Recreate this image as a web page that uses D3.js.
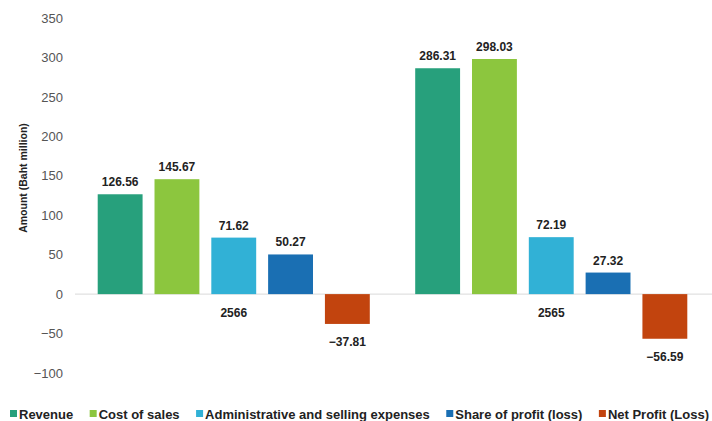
<!DOCTYPE html>
<html>
<head>
<meta charset="utf-8">
<script src="https://cdn.jsdelivr.net/npm/d3@7"></script>
<style>
  html, body { margin: 0; padding: 0; background: #fff; }
  svg { display: block; font-family: "Liberation Sans", Arial, sans-serif; }
</style>
</head>
<body>
<svg id="chart" width="712" height="421"></svg>
<script>
// Fiscal years (Thai Buddhist calendar)
const years = ["2566", "2565"];
const seriesNames = ["Revenue", "Cost of sales", "Administrative and selling expenses", "Share of profit (loss)", "Net Profit (Loss)"];
const seriesColors = ["#27a07c", "#8cc63e", "#31b1d6", "#1a6fb3", "#c2440e"];
// Values per series, in the order of years
const revenue = [126.56, 286.31];
const costOfSales = [145.67, 298.03];
const adminExpenses = [71.62, 72.19];
const shareOfProfit = [50.27, 27.32];
const netProfit = [-37.81, -56.59];
const yTicks = [350, 300, 250, 200, 150, 100, 50, 0, -50, -100];

const seriesValues = [revenue, costOfSales, adminExpenses, shareOfProfit, netProfit];
const data = years.map((yr, i) => ({
  year: yr,
  values: seriesNames.map((s, j) => ({ series: s, value: seriesValues[j][i], color: seriesColors[j] }))
}));

const svg = d3.select("#chart");

const y = d3.scaleLinear().domain([-100, 350]).range([373, 18]);
const x0 = d3.scaleBand().domain(years).range([75, 710]).paddingInner(0.143).paddingOuter(0.0715);
const x1 = d3.scaleBand().domain(seriesNames).range([0, x0.bandwidth()]).paddingInner(0.21).paddingOuter(0);

// Y axis labels
const yAxis = d3.axisLeft(y).tickValues(yTicks).tickSize(0).tickPadding(0);
const gy = svg.append("g").attr("transform", "translate(63,0)").call(yAxis);
gy.select(".domain").remove();
gy.selectAll("text")
  .attr("fill", "#555")
  .style("font-size", "13px")
  .style("font-family", "'Liberation Sans', Arial, sans-serif");

// Y axis title
svg.append("text")
  .attr("transform", "translate(27,178) rotate(-90)")
  .attr("text-anchor", "middle")
  .attr("fill", "#222")
  .style("font-size", "10.5px")
  .style("font-weight", "bold")
  .text("Amount (Baht million)");

// Zero baseline
svg.append("line")
  .attr("x1", 75).attr("x2", 712)
  .attr("y1", y(0)).attr("y2", y(0))
  .attr("stroke", "#d9d9d9").attr("stroke-width", 1);

// Bars and value labels
const groups = svg.selectAll("g.year")
  .data(data)
  .join("g")
  .attr("class", "year")
  .attr("transform", d => `translate(${x0(d.year)},0)`);

groups.selectAll("rect")
  .data(d => d.values)
  .join("rect")
  .attr("x", d => x1(d.series))
  .attr("width", x1.bandwidth())
  .attr("y", d => y(Math.max(0, d.value)))
  .attr("height", d => Math.abs(y(d.value) - y(0)))
  .attr("fill", d => d.color);

groups.selectAll("text.val")
  .data(d => d.values)
  .join("text")
  .attr("class", "val")
  .attr("x", d => x1(d.series) + x1.bandwidth() / 2)
  .attr("y", d => d.value >= 0 ? y(d.value) - 8 : y(d.value) + 22)
  .attr("text-anchor", "middle")
  .attr("fill", "#222")
  .style("font-size", "12px")
  .style("font-weight", "bold")
  .text(d => d.value.toFixed(2).replace("-", "−"));

// Year labels under the groups
svg.selectAll("text.year")
  .data(years)
  .join("text")
  .attr("class", "year")
  .attr("x", d => x0(d) + x0.bandwidth() / 2)
  .attr("y", y(0) + 23)
  .attr("text-anchor", "middle")
  .attr("fill", "#222")
  .style("font-size", "12px")
  .style("font-weight", "bold")
  .text(d => d);

// Legend: items spread so the row spans from x=10 to x=709
const legend = svg.append("g").attr("transform", "translate(10,414)");
const items = seriesNames.map((name, i) => {
  const item = legend.append("g");
  item.append("rect")
    .attr("x", 0).attr("y", -4)
    .attr("width", 7).attr("height", 7)
    .attr("fill", seriesColors[i]);
  const t = item.append("text")
    .attr("x", 9).attr("y", 0)
    .attr("dy", "0.35em")
    .attr("fill", "#222")
    .style("font-size", "13px")
    .style("font-weight", "bold")
    .text(name);
  return { item, w: 9 + t.node().getComputedTextLength() };
});
const totalW = d3.sum(items, d => d.w);
const gap = Math.max(6, (699 - totalW) / (items.length - 1));
let lx = 0;
items.forEach(d => {
  d.item.attr("transform", `translate(${lx},0)`);
  lx += d.w + gap;
});
</script>
</body>
</html>
